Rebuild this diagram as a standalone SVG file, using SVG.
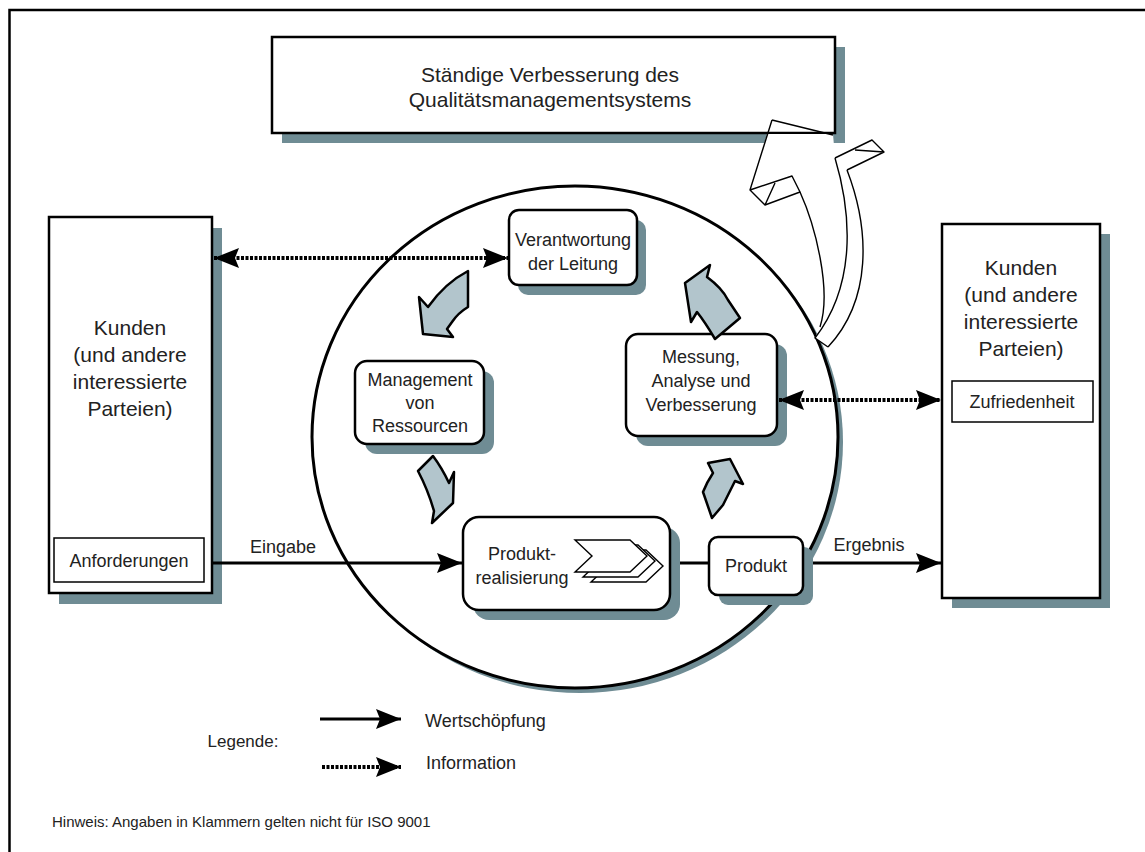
<svg xmlns="http://www.w3.org/2000/svg" width="1145" height="852" viewBox="0 0 1145 852">
<defs>
<style>
.t{font-family:"Liberation Sans",Arial,sans-serif;font-size:18px;fill:#222;text-anchor:middle}
.tk{font-size:21px}
.sh{fill:#6f8c94}
.bx{fill:#fff;stroke:#000;stroke-width:2.5}
.ib{fill:#fff;stroke:#000;stroke-width:1.5}
.ga{fill:#b2c5cc;stroke:#000;stroke-width:2.5;stroke-linejoin:round}
.solid{stroke:#000;stroke-width:3;fill:none}
.dot{stroke:#000;stroke-width:4;fill:none;stroke-dasharray:3 1.5}
.wa{fill:none;stroke:#000;stroke-width:1.4;stroke-linejoin:round}
.chev{fill:#fff;stroke:#000;stroke-width:1.4}
</style>
<marker id="ah" markerUnits="userSpaceOnUse" markerWidth="26" markerHeight="22" viewBox="0 0 26 22" refX="25" refY="11" orient="auto-start-reverse">
<path d="M0,1 L25,11 L0,21 L4,11 z" fill="#000"/>
</marker>
</defs>
<rect width="1145" height="852" fill="#fff"/>
<path d="M9.5,852 V10 H1145" fill="none" stroke="#000" stroke-width="2.5"/>

<g id="top-box">
<rect class="sh" x="282" y="47" width="563" height="96"/>
<rect class="bx" x="272" y="37" width="563" height="96"/>
<text class="t tk" x="550" y="82">Ständige Verbesserung des</text>
<text class="t tk" x="550" y="107">Qualitätsmanagementsystems</text>
</g>

<g id="circle">
<ellipse class="sh" cx="580" cy="442" rx="263" ry="251"/>
<ellipse cx="575" cy="437" rx="263" ry="251" fill="#fff" stroke="#000" stroke-width="3"/>
</g>

<g id="improvement-arrow">
<path d="M767,134 L833,134 L835,158 L872,140 L884,152 L847,170 C870,230 872,300 828,347 L815,338 L820,327 C832,290 815,225 800,192 L765,205 L750,190 Z" fill="#fff"/>
<path class="wa" d="M772,120 L833,135"/>
<path class="wa" d="M772,120 L750,190 L765,205 L800,192 L792,176 L750,190 M775,183 L765,205"/>
<path class="wa" d="M800,192 C815,225 832,290 820,327"/>
<path class="wa" d="M835,158 C852,215 856,285 815,338 L828,347"/>
<path class="wa" d="M847,170 C870,230 872,300 828,347"/>
<path class="wa" d="M835,158 L872,140 L884,152 L847,170 M855,150 L884,152"/>
</g>

<g id="kunden-left">
<rect class="sh" x="59" y="228" width="163" height="376"/>
<rect class="bx" x="49" y="217" width="163" height="376"/>
<text class="t tk" x="130" y="335">Kunden</text>
<text class="t tk" x="130" y="362">(und andere</text>
<text class="t tk" x="130" y="389">interessierte</text>
<text class="t tk" x="130" y="416">Parteien)</text>
<rect class="ib" x="54" y="538" width="150" height="44"/>
<text class="t" x="129" y="567">Anforderungen</text>
</g>

<g id="kunden-right">
<rect class="sh" x="952" y="234" width="158" height="374"/>
<rect class="bx" x="942" y="224" width="158" height="374"/>
<text class="t tk" x="1021" y="275">Kunden</text>
<text class="t tk" x="1021" y="302">(und andere</text>
<text class="t tk" x="1021" y="329">interessierte</text>
<text class="t tk" x="1021" y="356">Parteien)</text>
<rect class="ib" x="952" y="381" width="141" height="41"/>
<text class="t" x="1022" y="408">Zufriedenheit</text>
</g>

<g id="verantwortung">
<rect class="sh" x="518" y="220" width="128" height="75" rx="10"/>
<rect class="bx" x="509" y="210" width="128" height="75" rx="10"/>
<text class="t" x="573" y="246">Verantwortung</text>
<text class="t" x="573" y="270">der Leitung</text>
</g>

<g id="management">
<rect class="sh" x="365" y="371" width="129" height="83" rx="12"/>
<rect class="bx" x="355" y="361" width="129" height="83" rx="12"/>
<text class="t" x="420" y="386">Management</text>
<text class="t" x="420" y="409">von</text>
<text class="t" x="420" y="432">Ressourcen</text>
</g>

<g id="messung">
<rect class="sh" x="636" y="344" width="151" height="102" rx="12"/>
<rect class="bx" x="626" y="334" width="151" height="102" rx="12"/>
<text class="t" x="701" y="363">Messung,</text>
<text class="t" x="701" y="387">Analyse und</text>
<text class="t" x="701" y="411">Verbesserung</text>
</g>

<g id="connectors">
<line class="dot" x1="214" y1="258" x2="508" y2="258" marker-start="url(#ah)" marker-end="url(#ah)"/>
<line class="dot" x1="779" y1="400" x2="941" y2="400" marker-start="url(#ah)" marker-end="url(#ah)"/>
<line class="solid" x1="212" y1="563" x2="462" y2="563" marker-end="url(#ah)"/>
<line class="solid" x1="670" y1="563" x2="709" y2="563" stroke-width="4"/>
<line class="solid" x1="803" y1="563" x2="941" y2="563" marker-end="url(#ah)"/>
<text class="t" x="283" y="553">Eingabe</text>
<text class="t" x="869" y="551">Ergebnis</text>
</g>

<g id="produktrealisierung">
<rect class="sh" x="473" y="527" width="207" height="93" rx="16"/>
<rect class="bx" x="463" y="517" width="207" height="93" rx="16"/>
<text class="t" x="522" y="560">Produkt-</text>
<text class="t" x="522" y="584">realisierung</text>
<polygon class="chev" points="591,550 646,550 663,566 646,582 591,582 608,566"/>
<polygon class="chev" points="583,545 638,545 655,561 638,577 583,577 600,561"/>
<polygon class="chev" points="575,540 630,540 647,556 630,572 575,572 592,556"/>
</g>

<g id="produkt">
<rect class="sh" x="719" y="547" width="94" height="58" rx="9"/>
<rect class="bx" x="709" y="537" width="94" height="58" rx="9"/>
<text class="t" x="756" y="572">Produkt</text>
</g>

<g id="cycle-arrows">
<path class="ga" d="M468,271 L468,307 Q458,313 452,322 L447,329 L453,337 L423,334 L419,297 L428,307 Q445,283 468,271 Z"/>
<path class="ga" d="M710,265 L707,277 Q722,288 728,300 L740,318 L715,339 Q705,322 697,312 L691,322 L685,283 Z"/>
<path class="ga" d="M433,456 L418,471 Q428,490 434,511 L432,523 L453,503 L454,472 L449,483 Q442,468 433,456 Z"/>
<path class="ga" d="M730,459 L743,484 L735,481 Q728,495 723,505 L712,518 L703,492 Q707,482 713,473 L708,463 Z"/>
</g>

<g id="legend">
<text class="t" x="243" y="747" style="font-size:17px">Legende:</text>
<line class="solid" x1="320" y1="719" x2="401" y2="719" marker-end="url(#ah)"/>
<text class="t" x="425" y="727" style="text-anchor:start">Wertschöpfung</text>
<line class="dot" x1="322" y1="767" x2="401" y2="767" marker-end="url(#ah)"/>
<text class="t" x="426" y="769" style="text-anchor:start">Information</text>
<text class="t" x="52" y="827" style="text-anchor:start;font-size:15px">Hinweis: Angaben in Klammern gelten nicht für ISO 9001</text>
</g>
</svg>
